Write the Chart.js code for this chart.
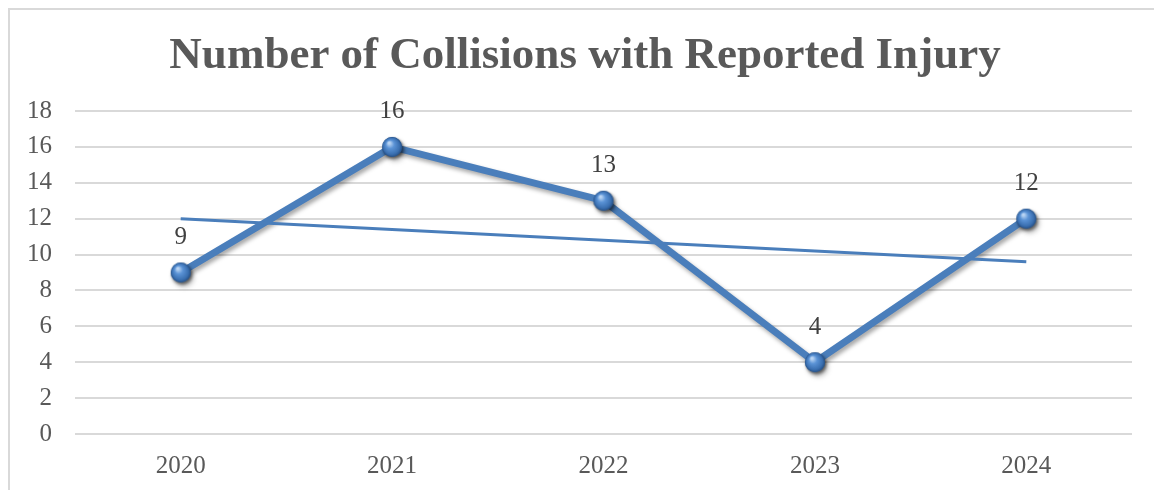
<!DOCTYPE html>
<html>
<head>
<meta charset="utf-8">
<script src="https://cdn.jsdelivr.net/npm/chart.js@4/dist/chart.umd.min.js"></script>
<style>
  html, body { margin: 0; padding: 0; background: #fff; }
  #wrap { position: relative; width: 1154px; height: 490px; }
  #frame { position: absolute; left: 8px; top: 8px; right: -4px; bottom: -4px; border-left: 2px solid #d9d9d9; border-top: 2px solid #d9d9d9; }
  canvas { position: absolute; left: 0; top: 0; }
</style>
</head>
<body>
<div id="wrap">
  <div id="frame"></div>
  <canvas id="c" width="1154" height="490"></canvas>
</div>
<script>
const categories = ['2020', '2021', '2022', '2023', '2024'];
const collisions = [9, 16, 13, 4, 12];
const trendValues = [12, 11.4, 10.8, 10.2, 9.6];
const yTicks = [0, 2, 4, 6, 8, 10, 12, 14, 16, 18];
const chartTitle = 'Number of Collisions with Reported Injury';

const BLUE = '#4a7ebb';

function makeSphere() {
  const s = 30, c = document.createElement('canvas');
  c.width = s; c.height = s;
  const g = c.getContext('2d');
  const cx = s / 2, cy = s / 2, r = 10;
  g.save();
  g.shadowColor = 'rgba(0,0,0,0.45)';
  g.shadowBlur = 3;
  g.shadowOffsetX = 1.5;
  g.shadowOffsetY = 2;
  g.beginPath(); g.arc(cx, cy, r, 0, Math.PI * 2);
  g.fillStyle = '#2f5f98';
  g.fill();
  g.restore();
  const grad = g.createRadialGradient(cx - 3, cy - 4, 1, cx, cy, r);
  grad.addColorStop(0, '#b9d4f3');
  grad.addColorStop(0.35, '#5b93d6');
  grad.addColorStop(0.8, '#3a6fb0');
  grad.addColorStop(1, '#254f85');
  g.beginPath(); g.arc(cx, cy, r, 0, Math.PI * 2);
  g.fillStyle = grad;
  g.fill();
  return c;
}
const sphere = makeSphere();

const shadowPlugin = {
  id: 'lineShadow',
  beforeDatasetDraw(chart, args) {
    if (args.index === 1) {
      const ctx = chart.ctx;
      ctx.save();
      ctx.shadowColor = 'rgba(0,0,0,0.35)';
      ctx.shadowBlur = 4;
      ctx.shadowOffsetX = 2;
      ctx.shadowOffsetY = 3;
    }
  },
  afterDatasetDraw(chart, args) {
    if (args.index === 1) chart.ctx.restore();
  }
};

const labelPlugin = {
  id: 'valueLabels',
  afterDatasetsDraw(chart) {
    const meta = chart.getDatasetMeta(1);
    const ctx = chart.ctx;
    ctx.save();
    ctx.font = '25px "Liberation Serif", serif';
    ctx.fillStyle = '#404040';
    ctx.textAlign = 'center';
    ctx.textBaseline = 'middle';
    meta.data.forEach((pt, i) => {
      ctx.fillText(String(collisions[i]), pt.x, pt.y - 35);
    });
    ctx.restore();
  }
};

const titlePlugin = {
  id: 'centeredTitle',
  afterDraw(chart) {
    const ctx = chart.ctx;
    ctx.save();
    ctx.font = 'bold 45px "Liberation Serif", serif';
    ctx.fillStyle = '#595959';
    ctx.textAlign = 'center';
    ctx.textBaseline = 'alphabetic';
    ctx.fillText(chartTitle, 585, 68);
    ctx.restore();
  }
};

new Chart(document.getElementById('c'), {
  type: 'line',
  data: {
    labels: categories,
    datasets: [
      {
        label: 'Trend',
        data: trendValues,
        borderColor: BLUE,
        borderWidth: 3,
        pointRadius: 0,
        fill: false,
        tension: 0
      },
      {
        label: 'Collisions',
        data: collisions,
        borderColor: BLUE,
        borderWidth: 7,
        pointStyle: sphere,
        pointRadius: 10,
        fill: false,
        tension: 0
      }
    ]
  },
  options: {
    responsive: false,
    animation: false,
    layout: { padding: { top: 111, right: 22, bottom: 0, left: 0 } },
    plugins: {
      legend: { display: false },
      tooltip: { enabled: false },
      title: { display: false }
    },
    scales: {
      x: {
        offset: true,
        grid: { display: false, drawTicks: false },
        border: { display: false },
        ticks: {
          color: '#595959',
          font: { family: '"Liberation Serif", serif', size: 25 },
          padding: 17,
          maxRotation: 0
        },
        afterFit(axis) { axis.height = 56; }
      },
      y: {
        min: 0,
        max: 18,
        afterBuildTicks(axis) { axis.ticks = yTicks.map(v => ({ value: v })); },
        grid: { color: '#d9d9d9', lineWidth: 2, drawTicks: false },
        border: { display: false },
        ticks: {
          color: '#595959',
          font: { family: '"Liberation Serif", serif', size: 25 },
          padding: 23
        },
        afterFit(axis) { axis.width = 75; }
      }
    }
  },
  plugins: [shadowPlugin, labelPlugin, titlePlugin]
});
</script>
</body>
</html>
